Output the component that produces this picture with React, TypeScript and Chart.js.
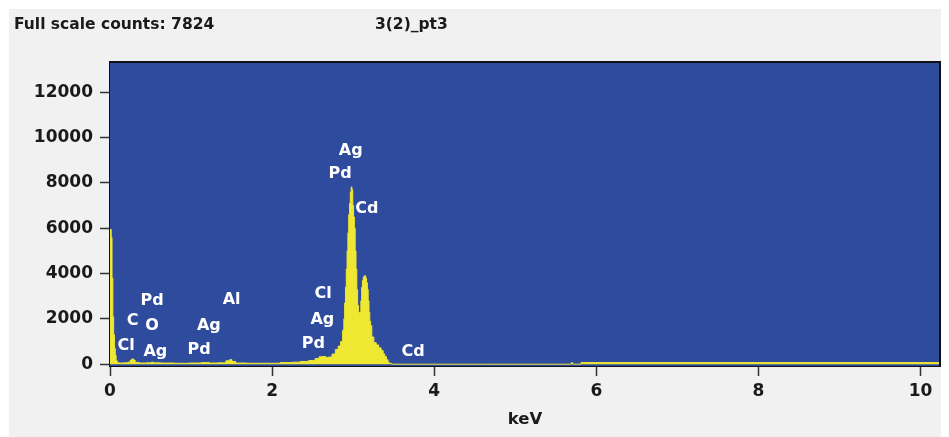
import { useEffect, useRef } from "react";
import { Chart, registerables } from "chart.js";

Chart.register(...registerables);

// ---- data ----
const spectrumName = "3(2)_pt3";

const energyKeV = [
  0.0, 0.01, 0.02, 0.03, 0.04, 0.05, 0.06, 0.07, 0.08, 0.1, 0.14, 0.2, 0.24, 0.26, 0.28, 0.3, 0.32,
  0.4, 0.5, 0.52, 0.55, 0.7, 0.9, 1.05, 1.2, 1.25, 1.4, 1.46, 1.49, 1.52, 1.58, 1.8, 2.0, 2.2,
  2.3, 2.4, 2.5, 2.56, 2.6, 2.64, 2.68, 2.72, 2.76, 2.8, 2.83, 2.86, 2.88, 2.89, 2.9, 2.91, 2.92,
  2.93, 2.94, 2.95, 2.96, 2.97, 2.98, 2.99, 3.0, 3.01, 3.02, 3.03, 3.04, 3.05, 3.06, 3.07, 3.08,
  3.09, 3.1, 3.11, 3.12, 3.13, 3.14, 3.15, 3.16, 3.17, 3.18, 3.19, 3.2, 3.21, 3.22, 3.24, 3.27,
  3.3, 3.33, 3.36, 3.38, 3.4, 3.42, 3.44, 3.46, 3.5, 5.68, 5.7, 5.72, 5.8, 5.82, 10.24,
];

const counts = [
  5950, 5950, 5600, 3800, 2100, 1300, 700, 400, 150, 60, 50, 60, 90, 180, 230, 180, 80,
  50, 60, 90, 60, 50, 40, 50, 70, 50, 60, 150, 200, 120, 50, 40, 40, 70,
  90, 120, 160, 250, 330, 340, 300, 320, 450, 650, 800, 1000, 1500, 2000, 2700, 3400, 4200,
  5000, 5800, 6600, 7100, 7600, 7824, 7700, 7000, 6500, 6000, 5000, 4200, 3300, 2600, 2300, 2250,
  2300, 2800, 3400, 3700, 3850, 3900, 3900, 3800, 3600, 3300, 2800, 2300, 1900, 1700, 1200, 950,
  850, 720, 600, 450, 340, 200, 80, 30, 0, 0, 60, 0, 0, 70, 70,
];

const xTickValues = [0, 2, 4, 6, 8, 10];
const yTickValues = [0, 2000, 4000, 6000, 8000, 10000, 12000];

const peakLabels = ["Cl", "C", "Pd", "O", "Ag", "Pd", "Ag", "Al", "Pd", "Ag", "Cl", "Pd", "Ag", "Cd", "Cd"];
const peakLabelKeV = [0.2, 0.28, 0.52, 0.52, 0.56, 1.1, 1.22, 1.5, 2.51, 2.62, 2.63, 2.84, 2.97, 3.17, 3.74];
const peakLabelCounts = [810, 1910, 2800, 1690, 540, 630, 1690, 2840, 890, 1950, 3100, 8400, 9410, 6850, 540];

// ---- style ----
const BLUE = "#2e4b9e";
const YELLOW = "#efe832";
const PANEL = "#f0f1f0";
const FONT = '"DejaVu Sans", Verdana, sans-serif';

export default function App() {
  const canvasRef = useRef<HTMLCanvasElement | null>(null);

  useEffect(() => {
    const canvas = canvasRef.current;
    if (!canvas) return;

    const decor = {
      id: "decor",
      beforeDatasetsDraw(chart: any) {
        const { ctx, chartArea: a } = chart;
        ctx.save();
        ctx.fillStyle = BLUE;
        ctx.fillRect(a.left, a.top, a.right - a.left, a.bottom - a.top);
        ctx.restore();
      },
      afterDatasetsDraw(chart: any) {
        const { ctx, chartArea: a } = chart;
        const xs = chart.scales.x;
        const ys = chart.scales.y;
        ctx.save();
        ctx.fillStyle = "#ffffff";
        ctx.font = `bold 16px ${FONT}`;
        ctx.textAlign = "center";
        ctx.textBaseline = "middle";
        peakLabels.forEach((t, i) => {
          ctx.fillText(t, xs.getPixelForValue(peakLabelKeV[i]), ys.getPixelForValue(peakLabelCounts[i]));
        });
        ctx.strokeStyle = "#111";
        ctx.lineWidth = 2;
        ctx.beginPath();
        ctx.moveTo(a.left, a.top);
        ctx.lineTo(a.right, a.top);
        ctx.lineTo(a.right, a.bottom);
        ctx.stroke();
        ctx.restore();
      },
      afterDraw(chart: any) {
        const { ctx } = chart;
        ctx.save();
        ctx.fillStyle = "#1a1a1a";
        ctx.font = `bold 15.5px ${FONT}`;
        ctx.textAlign = "left";
        ctx.textBaseline = "middle";
        ctx.fillText(`Full scale counts: ${Math.max(...counts)}`, 5, 16);
        ctx.fillText(spectrumName, 366, 16);
        ctx.restore();
      },
    };

    const chart = new Chart(canvas, {
      type: "line",
      data: {
        datasets: [
          {
            data: energyKeV.map((e, i) => ({ x: e, y: counts[i] })),
            borderColor: YELLOW,
            backgroundColor: YELLOW,
            borderWidth: 1,
            fill: "origin",
            stepped: "middle",
            pointRadius: 0,
            tension: 0,
          },
        ],
      },
      options: {
        animation: false,
        responsive: false,
        maintainAspectRatio: false,
        layout: { padding: { top: 53, right: 1, left: 0, bottom: 0 } },
        plugins: { legend: { display: false }, tooltip: { enabled: false } },
        scales: {
          x: {
            type: "linear",
            min: 0,
            max: 10.24,
            afterBuildTicks: (s: any) => {
              s.ticks = xTickValues.map((v) => ({ value: v }));
            },
            afterFit: (s: any) => {
              s.height = 71;
            },
            ticks: {
              color: "#1a1a1a",
              font: { family: FONT, size: 17, weight: "bold" },
              padding: 5,
              maxRotation: 0,
              autoSkip: false,
              callback: (v: any) => String(v),
            },
            grid: { drawOnChartArea: false, tickLength: 10, tickColor: "#333", tickWidth: 1.5 },
            border: { color: "#111", width: 2 },
            title: {
              display: true,
              text: "keV",
              color: "#1a1a1a",
              font: { family: FONT, size: 16.5, weight: "bold" },
              padding: { top: 0, bottom: 7 },
            },
          },
          y: {
            type: "linear",
            min: -80,
            max: 13340,
            afterBuildTicks: (s: any) => {
              s.ticks = yTickValues.map((v) => ({ value: v }));
            },
            afterFit: (s: any) => {
              s.width = 101;
            },
            ticks: {
              color: "#1a1a1a",
              font: { family: FONT, size: 17, weight: "bold" },
              padding: 7,
              autoSkip: false,
              callback: (v: any) => String(v),
            },
            grid: { drawOnChartArea: false, tickLength: 10, tickColor: "#333", tickWidth: 1.5 },
            border: { color: "#111", width: 2 },
          },
        },
      },
      plugins: [decor],
    });

    return () => chart.destroy();
  }, []);

  return (
    <div
      style={{
        position: "fixed",
        left: 9,
        top: 9,
        width: 932,
        height: 428,
        background: PANEL,
      }}
    >
      <canvas ref={canvasRef} width={932} height={428} style={{ display: "block", width: 932, height: 428 }} />
    </div>
  );
}
